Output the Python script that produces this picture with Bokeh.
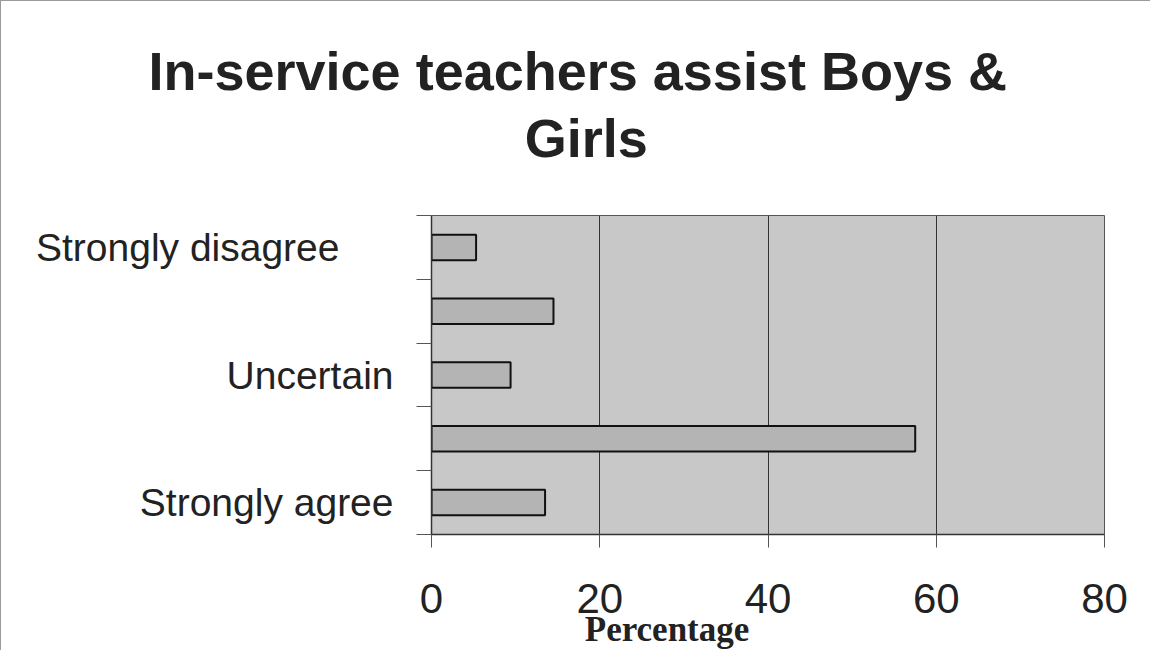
from bokeh.plotting import figure
from bokeh.models import Range1d, FixedTicker, Title, LinearAxis
from bokeh.embed import file_html
from bokeh.resources import INLINE

# ---- data ----
categories = ["Strongly disagree", "Disagree", "Uncertain", "Agree", "Strongly agree"]
tick_labels = ["Strongly disagree", "", "Uncertain", "", "Strongly agree"]
percentages = [5.3, 14.5, 9.4, 57.5, 13.5]
x_ticks = [0, 20, 40, 60, 80]
title_lines = ["In-service teachers assist Boys &", "Girls"]
x_label = "Percentage"
x_label_pos = 28.0   # where the (off-centre) axis title sits along the x scale
title2_pos = 18.4    # where the second title line sits along the x scale

n = len(categories)
# top-to-bottom order: first category at the top
ypos = [n - 0.5 - i for i in range(n)]

p = figure(width=1150, height=650, output_backend="svg", toolbar_location=None,
           x_range=Range1d(0, 80), y_range=Range1d(0, n),
           min_border_left=430, min_border_right=47, min_border_top=214, min_border_bottom=116)
p.title.visible = False
p.styles = {"border-top": "1px solid #9a9a9a", "border-left": "1px solid #9a9a9a"}

p.background_fill_color = "#c8c8c8"
p.border_fill_color = "white"
p.outline_line_color = "#555555"
p.outline_line_width = 1

p.hbar(y=ypos, right=percentages, left=0, height=0.4,
       fill_color="#b4b4b4", line_color="#111111", line_width=2)

# grid
p.ygrid.grid_line_color = None
p.xgrid.ticker = FixedTicker(ticks=x_ticks)
p.xgrid.grid_line_color = "#333333"
p.xgrid.grid_line_width = 1

# x axis
xa = p.xaxis[0]
xa.ticker = FixedTicker(ticks=x_ticks)
xa.major_tick_out = 13
xa.major_tick_in = 0
xa.minor_tick_line_color = None
xa.major_tick_line_color = "#555555"
xa.axis_line_color = "#333333"
xa.axis_line_width = 1.5
xa.major_label_text_font = "Liberation Sans"
xa.major_label_text_font_size = "42px"
xa.major_label_text_color = "#222222"
xa.major_label_standoff = 36

# second bottom axis carrying the axis title at its off-centre position
xl = LinearAxis(ticker=FixedTicker(ticks=[x_label_pos]),
                major_label_overrides={x_label_pos: x_label},
                axis_line_color=None, major_tick_line_color=None, minor_tick_line_color=None,
                major_tick_out=0, major_tick_in=0, major_label_standoff=-6,
                major_label_text_font="Liberation Serif", major_label_text_font_style="bold",
                major_label_text_font_size="35px", major_label_text_color="#222222")
p.add_layout(xl, "below")

# y axis: boundary ticks + labels of the lower categories (right-aligned)
main_idx = [i for i, lab in enumerate(tick_labels) if lab and i != 0]
ya = p.yaxis[0]
ya.ticker = FixedTicker(ticks=[ypos[i] for i in main_idx], minor_ticks=list(range(n + 1)))
ya.major_label_overrides = {ypos[i]: tick_labels[i] for i in main_idx}
ya.major_tick_line_color = None
ya.major_tick_out = 0
ya.major_tick_in = 0
ya.minor_tick_out = 15
ya.minor_tick_in = 0
ya.minor_tick_line_color = "#555555"
ya.axis_line_color = "#333333"
ya.axis_line_width = 1.5
ya.major_label_text_font = "Liberation Sans"
ya.major_label_text_font_size = "39px"
ya.major_label_text_color = "#222222"
ya.major_label_standoff = 23

# the first category label sits further left in the original
ya2 = LinearAxis(ticker=FixedTicker(ticks=[ypos[0]]),
                 major_label_overrides={ypos[0]: tick_labels[0]},
                 axis_line_color=None, major_tick_line_color=None, minor_tick_line_color=None,
                 major_tick_out=0, major_tick_in=0, major_label_standoff=-203,
                 major_label_text_font="Liberation Sans", major_label_text_font_size="39px",
                 major_label_text_color="#222222")
p.add_layout(ya2, "left")

# title line 2 ("Girls"), closest to the plot
t2 = LinearAxis(ticker=FixedTicker(ticks=[title2_pos]),
                major_label_overrides={title2_pos: title_lines[1]},
                axis_line_color=None, major_tick_line_color=None, minor_tick_line_color=None,
                major_tick_out=0, major_tick_in=0, major_label_standoff=48,
                major_label_text_font="Liberation Sans", major_label_text_font_style="bold",
                major_label_text_font_size="54px", major_label_text_color="#222222")
p.add_layout(t2, "above")

# title line 1, above it, centred on the whole figure
p.add_layout(Title(text=title_lines[0], align="left", offset=-283, standoff=8,
                   text_font="Liberation Sans", text_font_style="bold",
                   text_font_size="54px", text_color="#222222"), "above")

open("out.html", "w").write(file_html(p, INLINE))
